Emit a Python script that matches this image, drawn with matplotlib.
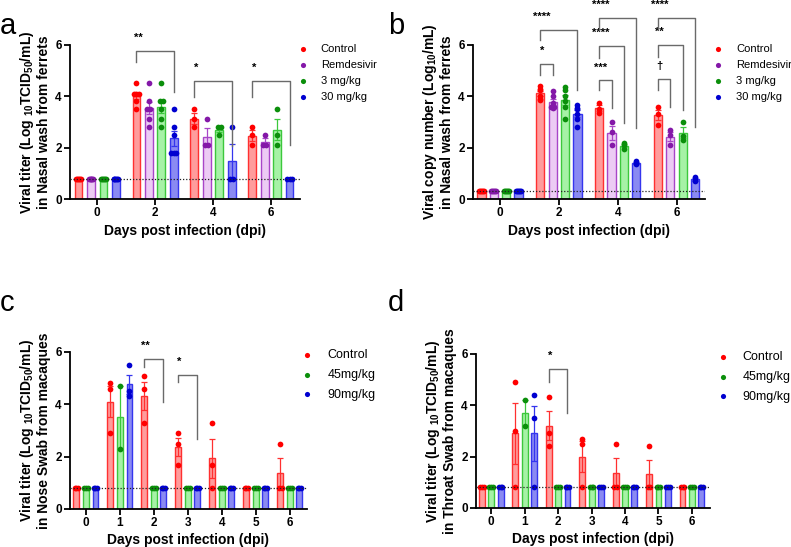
import numpy as np
import matplotlib
matplotlib.use("Agg")
import matplotlib.pyplot as plt

plt.rcParams['font.family'] = ['Liberation Sans', 'DejaVu Sans']
plt.rcParams['mathtext.fontset'] = 'custom'
plt.rcParams['mathtext.rm'] = 'Liberation Sans:bold'
plt.rcParams['mathtext.bf'] = 'Liberation Sans:bold'
plt.rcParams['mathtext.default'] = 'bf'

# ---- data ----
ferret_days = ['0', '2', '4', '6']
ferret_groups = ['Control', 'Remdesivir', '3 mg/kg', '30 mg/kg']

# panel a: viral titer, nasal wash ferrets
a_control = [[0.8] * 6, [4.5, 4.1, 4.1, 4.1, 3.8, 3.5], [3.5, 3.1, 2.8], [2.8, 2.5, 2.1]]
a_remdesivir = [[0.8] * 6, [4.5, 3.8, 3.5, 3.5, 3.1, 2.8], [3.1, 2.1, 2.1], [2.5, 2.1, 2.1]]
a_3mg = [[0.8] * 6, [4.5, 3.8, 3.8, 3.5, 3.1, 2.8], [2.8, 2.8, 2.5], [3.5, 2.5, 2.1]]
a_30mg = [[0.8] * 6, [3.5, 2.8, 2.5, 1.8, 1.8, 1.8], [2.8, 0.8, 0.8], [0.8, 0.8, 0.8]]
a_lod = 0.8

# panel b: viral copy number, nasal wash ferrets
b_control = [[0.3] * 6, [4.4, 4.3, 4.25, 4.0, 3.9, 3.85], [3.75, 3.5, 3.35], [3.6, 3.3, 2.9]]
b_remdesivir = [[0.3] * 6, [4.2, 4.0, 3.75, 3.6, 3.6, 3.55], [3.0, 2.6, 2.1], [2.7, 2.5, 2.1]]
b_3mg = [[0.3] * 6, [4.35, 4.25, 4.0, 3.8, 3.6, 3.1], [2.2, 2.1, 1.95], [3.0, 2.45, 2.3]]
b_30mg = [[0.3] * 6, [3.65, 3.55, 3.5, 3.3, 3.1, 2.8], [1.5, 1.4, 1.35], [0.85, 0.75, 0.7]]
b_lod = 0.3

macaque_days = ['0', '1', '2', '3', '4', '5', '6']
macaque_groups = ['Control', '45mg/kg', '90mg/kg']

# panel c: viral titer, nose swab macaques
c_control = [[0.8] * 3, [4.8, 4.6, 2.9], [5.1, 4.6, 3.3], [2.9, 2.5, 1.7],
             [3.3, 1.7, 0.8], [0.8] * 3, [2.5, 0.8, 0.8]]
c_45mg = [[0.8] * 3, [4.7, 2.3], [0.8] * 3, [0.8] * 3, [0.8] * 3, [0.8] * 3, [0.8] * 3]
c_90mg = [[0.8] * 3, [5.5, 4.5, 4.3], [0.8] * 3, [0.8] * 3, [0.8] * 3, [0.8] * 3, [0.8] * 3]

# panel d: viral titer, throat swab macaques
d_control = [[0.8] * 3, [4.9, 3.0, 0.8], [4.3, 2.9, 2.4], [2.7, 2.5, 0.8],
             [2.5, 0.8, 0.8], [2.4, 0.8, 0.8], [0.8] * 3]
d_45mg = [[0.8] * 3, [4.2, 3.2], [0.8] * 3, [0.8] * 3, [0.8] * 3, [0.8] * 3, [0.8] * 3]
d_90mg = [[0.8] * 3, [4.4, 3.5, 0.8], [0.8] * 3, [0.8] * 3, [0.8] * 3, [0.8] * 3, [0.8] * 3]

# significance: (day index, group from, group to, label)
a_sig = [(1, 0, 3, '**'), (2, 0, 3, '*'), (3, 0, 3, '*')]
b_sig = [(1, 0, 1, '*'), (1, 0, 3, '****'), (2, 0, 1, '***'), (2, 0, 2, '****'),
         (2, 0, 3, '****'), (3, 0, 1, '\u2020'), (3, 0, 2, '**'), (3, 0, 3, '****')]
c_sig = [(2, 0, 2, '**'), (3, 0, 2, '*')]
d_sig = [(2, 0, 2, '*')]
# bracket heights: top, left leg end, right leg end
a_brk = [(5.76, 5.33, 4.16), (4.59, 3.97, 2.08), (4.59, 3.97, 2.12)]
b_brk = [(5.25, 4.81, 4.81), (6.58, 6.19, 4.24), (4.62, 4.24, 3.54), (5.97, 5.5, 2.95),
         (7.06, 6.58, 2.76), (4.66, 4.24, 3.58), (5.99, 5.54, 3.46), (7.06, 6.6, 2.81)]
c_brk = [(5.74, 5.43, 4.09), (5.13, 4.85, 2.69)]
d_brk = [(5.4, 4.92, 3.69)]

fill4 = ['#ff9c9c', '#eccbf4', '#a6f2a6', '#8a8af2']
edge4 = ['#ff3030', '#a845c8', '#3cc83c', '#3535ee']
dot4 = ['#ff0000', '#8418a8', '#0b8f0b', '#0000d0']
fill3 = [fill4[0], fill4[2], fill4[3]]
edge3 = [edge4[0], edge4[2], edge4[3]]
dot3 = [dot4[0], dot4[2], dot4[3]]


def sem(v):
    v = np.asarray(v, dtype=float)
    if len(v) < 2:
        return 0.0
    return v.std(ddof=1) / np.sqrt(len(v))


def spread(v, x0, width):
    # put identical values side by side like a column scatter
    counts = {}
    for val in v:
        counts[val] = counts.get(val, 0) + 1
    seen = {}
    xs = []
    for val in v:
        k = counts[val]
        i = seen.get(val, 0)
        seen[val] = i + 1
        if k == 1:
            xs.append(x0)
        else:
            half = min(width * 0.3, (k - 1) * width * 0.2)
            xs.append(x0 - half + 2 * half * i / (k - 1))
    return xs


def draw_panel(ax, days, series, names, fills, edges, dots, lod, step, width, xlim,
               sig, brk, ylabel, leg_anchor, leg_fs, leg_space):
    n = len(series)
    handles = []
    for gi, vals in enumerate(series):
        off = (gi - (n - 1) / 2) * step
        for di, v in enumerate(vals):
            x = di + off
            m = np.mean(v)
            ax.bar(x, m, width, color=fills[gi], edgecolor=edges[gi], lw=1.0, zorder=2)
            ax.errorbar(x, m, yerr=sem(v), fmt='none', ecolor=edges[gi],
                        elinewidth=0.9, capsize=2.2, capthick=0.9, zorder=3)
            sc = ax.scatter(spread(v, x, width), v, s=17, color=dots[gi], lw=0,
                            zorder=4, clip_on=False)
        handles.append(sc)
    ax.axhline(lod, ls=(0, (1, 1.5)), color='#222222', lw=0.9, zorder=5)

    for (di, g0, g1, lab), (top, yl, yr) in zip(sig, brk):
        x0 = di + (g0 - (n - 1) / 2) * step
        x1 = di + (g1 - (n - 1) / 2) * step
        ax.plot([x0, x0, x1, x1], [yl, top, top, yr], color='#6a6a6a', lw=1.0,
                clip_on=False, zorder=6)
        ax.text(x0 + 0.03, top + 0.5, lab, ha='center', va='center', fontsize=8,
                fontweight='bold', clip_on=False)

    ax.set_xlim(*xlim)
    ax.set_ylim(0, 6)
    ax.set_yticks([0, 2, 4, 6])
    ax.set_xticks(range(len(days)))
    ax.set_xticklabels(days)
    for s in ['top', 'right']:
        ax.spines[s].set_visible(False)
    for s in ['left', 'bottom']:
        ax.spines[s].set_linewidth(1.3)
    ax.tick_params(axis='both', direction='out', length=4, width=1.3, labelsize=8.5, pad=2)
    for t in ax.get_xticklabels() + ax.get_yticklabels():
        t.set_fontweight('bold')
    ax.set_xlabel('Days post infection (dpi)', fontsize=10, fontweight='bold', labelpad=3)
    ax.set_ylabel(ylabel, fontsize=10, fontweight='bold', labelpad=3, linespacing=1.1)
    ax.legend(handles, names, loc='upper left', bbox_to_anchor=leg_anchor, frameon=False,
              fontsize=leg_fs, handletextpad=1.3, labelspacing=leg_space, borderaxespad=0,
              handlelength=0.6, markerscale=0.9)


fig = plt.figure(figsize=(7.91, 5.47), dpi=100)

ax_a = fig.add_axes([0.0885, 0.636, 0.2905, 0.282])
ax_b = fig.add_axes([0.598, 0.636, 0.293, 0.282])
ax_c = fig.add_axes([0.0885, 0.0695, 0.2995, 0.287])
ax_d = fig.add_axes([0.602, 0.0713, 0.296, 0.282])

lab_titer = 'Viral titer (Log $_{10}$TCID$_{50}$/mL)'
draw_panel(ax_a, ferret_days, [a_control, a_remdesivir, a_3mg, a_30mg], ferret_groups,
           fill4, edge4, dot4, a_lod, 0.215, 0.135, (-0.47, 3.5), a_sig, a_brk,
           lab_titer + '\nin Nasal wash from ferrets', (0.98, 1.035), 8, 0.55)
draw_panel(ax_b, ferret_days, [b_control, b_remdesivir, b_3mg, b_30mg], ferret_groups,
           fill4, edge4, dot4, b_lod, 0.21, 0.14, (-0.46, 3.48), b_sig, b_brk,
           'Viral copy number (Log$_{10}$/mL)\nin Nasal wash from ferrets', (1.025, 1.035), 8, 0.55)
draw_panel(ax_c, macaque_days, [c_control, c_45mg, c_90mg], macaque_groups,
           fill3, edge3, dot3, a_lod, 0.28, 0.175, (-0.47, 6.5), c_sig, c_brk,
           lab_titer + '\nin Nose Swab from macaques', (0.965, 1.05), 9, 0.62)
draw_panel(ax_d, macaque_days, [d_control, d_45mg, d_90mg], macaque_groups,
           fill3, edge3, dot3, a_lod, 0.28, 0.175, (-0.45, 6.55), d_sig, d_brk,
           lab_titer + '\nin Throat Swab from macaques', (1.015, 1.05), 9, 0.62)

for lab, x, y in [('a', 0.0, 0.952), ('b', 0.49, 0.952), ('c', 0.0, 0.446), ('d', 0.49, 0.446)]:
    fig.text(x, y, lab, fontsize=21, ha='left', va='center')

fig.savefig('out.png', dpi=100)
